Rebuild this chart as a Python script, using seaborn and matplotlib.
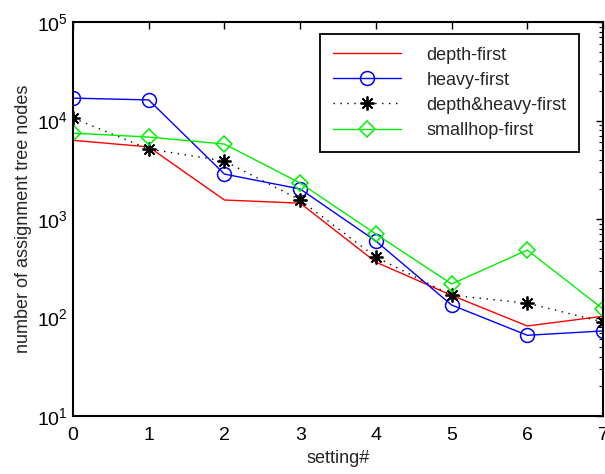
import numpy as np
import pandas as pd
import matplotlib
matplotlib.use("Agg")
import matplotlib.pyplot as plt
import seaborn as sns
from matplotlib.ticker import LogLocator, LogFormatterMathtext, NullFormatter

settings = [0, 1, 2, 3, 4, 5, 6, 7]
depth_first = [6300, 5400, 1560, 1450, 365, 168, 82, 103]
heavy_first = [16900, 16200, 2860, 2020, 598, 134, 66, 73]
depth_heavy_first = [10600, 5150, 3880, 1560, 411, 168, 140, 90]
smallhop_first = [7460, 6800, 5770, 2320, 705, 219, 484, 122]

sns.set_style("white")
plt.rcParams["font.family"] = ["Liberation Sans", "DejaVu Sans"]
plt.rcParams["mathtext.fontset"] = "custom"
plt.rcParams["mathtext.rm"] = "Liberation Sans"

fig = plt.figure(figsize=(6.05, 4.74), dpi=100)
ax = fig.add_axes([0.1207, 0.1224, 0.876, 0.831])

series = [
    ("depth-first", depth_first, dict(color="red", linestyle="-", marker=None)),
    ("heavy-first", heavy_first, dict(color="blue", linestyle="-", marker="o",
                                      markersize=10, markerfacecolor="none",
                                      markeredgecolor="blue", markeredgewidth=1.1)),
    ("depth&heavy-first", depth_heavy_first, dict(color="black", linestyle=(0, (1, 4)),
                                                  marker=(8, 2, 0), markersize=10,
                                                  markeredgewidth=1.3, markeredgecolor="black")),
    ("smallhop-first", smallhop_first, dict(color="#00ee00", linestyle="-", marker="D",
                                            markersize=8.5, markerfacecolor="none",
                                            markeredgecolor="#00ee00", markeredgewidth=1.1)),
]

for name, vals, kw in series:
    df = pd.DataFrame({"setting": settings, "nodes": vals})
    sns.lineplot(data=df, x="setting", y="nodes", ax=ax, label=name,
                 linewidth=1.0, **kw)

ax.set_yscale("log")
ax.set_xlim(0, 7)
ax.set_ylim(10, 1e5)
ax.set_xticks(settings)
ax.yaxis.set_major_locator(LogLocator(base=10, numticks=10))
ax.yaxis.set_major_formatter(LogFormatterMathtext())
ax.yaxis.set_minor_locator(LogLocator(base=10, subs=np.arange(2, 10), numticks=20))
ax.yaxis.set_minor_formatter(NullFormatter())
ax.tick_params(axis="both", which="both", direction="in", top=True, right=True,
               labelsize=14, colors="black")
ax.tick_params(axis="both", which="major", length=5, width=1)
ax.tick_params(axis="y", which="minor", length=3, width=0.8)
ax.tick_params(axis="x", pad=8)
for s in ax.spines.values():
    s.set_linewidth(1.5)
    s.set_color("black")

ax.set_xlabel("setting#", fontsize=13)
ax.set_ylabel("number of assignment tree nodes", fontsize=13)

leg = ax.legend(loc="upper right", bbox_to_anchor=(0.955, 0.97), borderaxespad=0,
                fontsize=13, handlelength=3.8, handletextpad=1.4, borderpad=0.7,
                labelspacing=0.45, fancybox=False, edgecolor="black", framealpha=1)
leg.get_frame().set_linewidth(1.3)

fig.savefig("out.png", dpi=100)
